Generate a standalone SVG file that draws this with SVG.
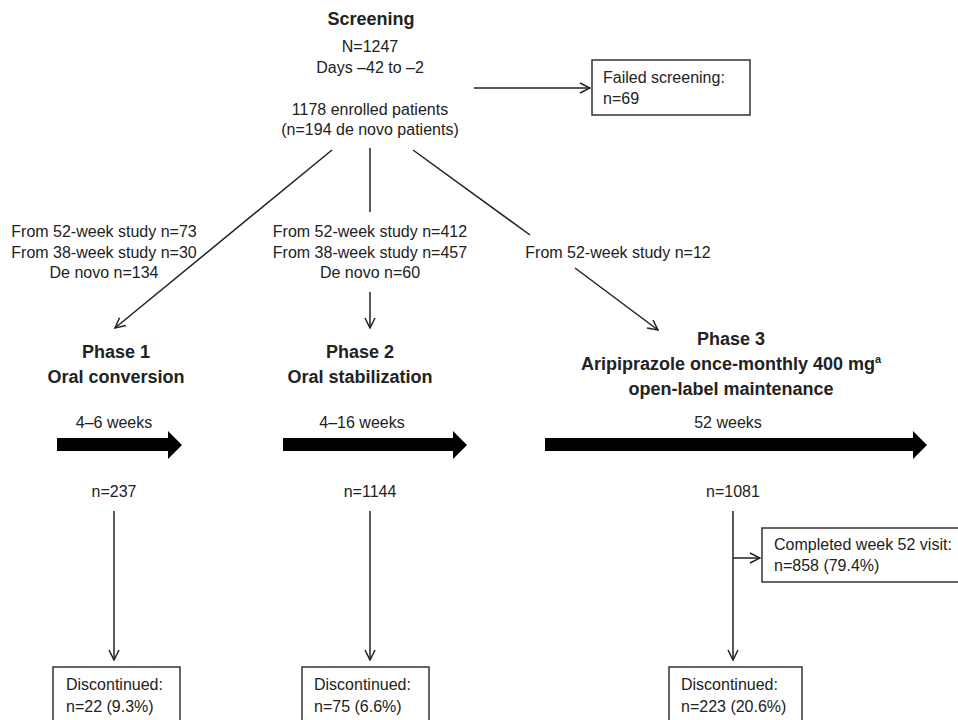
<svg xmlns="http://www.w3.org/2000/svg" width="958" height="720" viewBox="0 0 958 720">
<defs>
<style>
text{font-family:"Liberation Sans",Arial,sans-serif;fill:#222;}
.t{font-size:16px;}
.b{font-size:18px;font-weight:bold;}
.c{text-anchor:middle;}
.ln{stroke:#222;stroke-width:1.5;fill:none;}
.bx{stroke:#333;stroke-width:1.5;fill:#fff;}
.big{fill:#000;}
</style>
<marker id="ah" viewBox="0 0 12 12" refX="11" refY="6" markerWidth="12" markerHeight="12" markerUnits="userSpaceOnUse" orient="auto">
<path d="M1,1 L11,6 L1,11" fill="none" stroke="#222" stroke-width="1.5"/>
</marker>
</defs>
<rect width="958" height="720" fill="#fff"/>

<g id="connectors">
<line class="ln" x1="474" y1="88" x2="590" y2="88" marker-end="url(#ah)"/>
<line class="ln" x1="332" y1="150" x2="115" y2="328" marker-end="url(#ah)"/>
<line class="ln" x1="370" y1="148" x2="370" y2="212"/>
<line class="ln" x1="370" y1="292" x2="370" y2="328" marker-end="url(#ah)"/>
<line class="ln" x1="413" y1="150" x2="530" y2="235"/>
<line class="ln" x1="575" y1="268" x2="658" y2="330" marker-end="url(#ah)"/>
<line class="ln" x1="114" y1="511" x2="114" y2="660" marker-end="url(#ah)"/>
<line class="ln" x1="370" y1="511" x2="370" y2="660" marker-end="url(#ah)"/>
<line class="ln" x1="733" y1="511" x2="733" y2="660" marker-end="url(#ah)"/>
<line class="ln" x1="733" y1="558" x2="760" y2="558" marker-end="url(#ah)"/>
</g>

<g id="screening">
<text class="b c" x="371" y="25">Screening</text>
<text class="t c" x="370" y="52">N=1247</text>
<text class="t c" x="370" y="73">Days –42 to –2</text>
<text class="t c" x="370" y="115">1178 enrolled patients</text>
<text class="t c" x="370" y="135">(n=194 de novo patients)</text>
</g>

<g id="failed">
<rect class="bx" x="592" y="60" width="158" height="55"/>
<text class="t" x="603" y="83">Failed screening:</text>
<text class="t" x="603" y="104">n=69</text>
</g>

<g id="label-left">
<text class="t c" x="104" y="237">From 52-week study n=73</text>
<text class="t c" x="104" y="258">From 38-week study n=30</text>
<text class="t c" x="104" y="278">De novo n=134</text>
</g>
<g id="label-mid">
<text class="t c" x="370" y="237">From 52-week study n=412</text>
<text class="t c" x="370" y="258">From 38-week study n=457</text>
<text class="t c" x="370" y="278">De novo n=60</text>
</g>
<g id="label-right">
<text class="t c" x="618" y="258">From 52-week study n=12</text>
</g>

<g id="phase1">
<text class="b c" x="116" y="358">Phase 1</text>
<text class="b c" x="116" y="383">Oral conversion</text>
<text class="t c" x="114" y="428">4–6 weeks</text>
<polygon class="big" points="57,438 168,438 168,431 182,445 168,459 168,451 57,451"/>
<text class="t c" x="114" y="497">n=237</text>
</g>

<g id="phase2">
<text class="b c" x="360" y="358">Phase 2</text>
<text class="b c" x="360" y="383">Oral stabilization</text>
<text class="t c" x="362" y="428">4–16 weeks</text>
<polygon class="big" points="283,438 453,438 453,431 467,445 453,459 453,451 283,451"/>
<text class="t c" x="370" y="497">n=1144</text>
</g>

<g id="phase3">
<text class="b c" x="731" y="345">Phase 3</text>
<text class="b c" x="731" y="370">Aripiprazole once-monthly 400 mg<tspan font-size="11" dy="-7">a</tspan></text>
<text class="b c" x="731" y="395">open-label maintenance</text>
<text class="t c" x="728" y="428">52 weeks</text>
<polygon class="big" points="545,438 913,438 913,431 927,445 913,459 913,451 545,451"/>
<text class="t c" x="733" y="497">n=1081</text>
</g>

<g id="completed">
<rect class="bx" x="762" y="528" width="200" height="54"/>
<text class="t" x="774" y="550">Completed week 52 visit:</text>
<text class="t" x="774" y="571">n=858 (79.4%)</text>
</g>

<g id="disc1">
<rect class="bx" x="53" y="667" width="127" height="60"/>
<text class="t" x="66" y="690">Discontinued:</text>
<text class="t" x="66" y="712">n=22 (9.3%)</text>
</g>
<g id="disc2">
<rect class="bx" x="302" y="667" width="127" height="60"/>
<text class="t" x="314" y="690">Discontinued:</text>
<text class="t" x="314" y="712">n=75 (6.6%)</text>
</g>
<g id="disc3">
<rect class="bx" x="669" y="667" width="133" height="60"/>
<text class="t" x="681" y="690">Discontinued:</text>
<text class="t" x="681" y="712">n=223 (20.6%)</text>
</g>
</svg>
